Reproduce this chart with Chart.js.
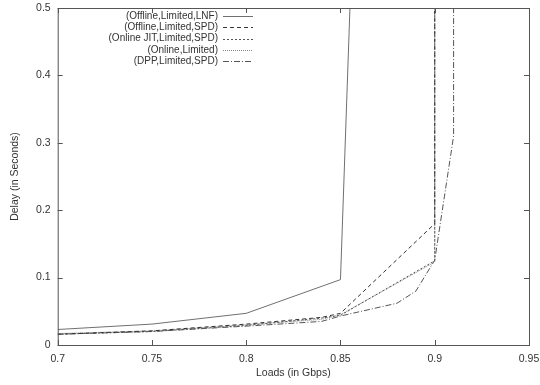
<!DOCTYPE html>
<html>
<head>
<meta charset="utf-8">
<script src="https://cdn.jsdelivr.net/npm/chart.js@4"></script>
<style>
  html, body { margin: 0; padding: 0; background: #fff; }
  #wrap { width: 540px; height: 385px; position: relative; }
</style>
</head>
<body>
<div id="wrap"><canvas id="delayChart" width="540" height="385"></canvas></div>
<script>
// values (load in Gbps, delay in seconds)
const lnfLoads = [0.7, 0.75, 0.8, 0.85, 0.86];
const lnfDelay = [0.023, 0.031, 0.047, 0.097, 0.9];

const offSpdLoads = [0.7, 0.75, 0.8, 0.84, 0.85, 0.9, 0.9];
const offSpdDelay = [0.016, 0.021, 0.031, 0.041, 0.047, 0.18, 1.0];

const jitLoads = [0.7, 0.75, 0.8, 0.84, 0.85, 0.9, 0.9];
const jitDelay = [0.016, 0.020, 0.029, 0.040, 0.044, 0.125, 1.0];

const onlineLoads = [0.7, 0.75, 0.8, 0.84, 0.85, 0.9, 0.9];
const onlineDelay = [0.017, 0.021, 0.030, 0.038, 0.045, 0.123, 1.0];

const dppLoads = [0.7, 0.75, 0.8, 0.84, 0.85, 0.88, 0.89, 0.9, 0.91, 0.91];
const dppDelay = [0.016, 0.020, 0.028, 0.035, 0.043, 0.062, 0.080, 0.126, 0.31, 1.0];

const xTicks = [0.7, 0.75, 0.8, 0.85, 0.9, 0.95];
const yTicks = [0, 0.1, 0.2, 0.3, 0.4, 0.5];

const FONT = '"Liberation Sans", Arial, sans-serif';
const TEXT = '#333';

function points(xs, ys) {
    return xs.map((x, i) => ({ x: x, y: ys[i] }));
}

function series(label, xs, ys, color, dash) {
    return {
        label: label,
        data: points(xs, ys),
        borderColor: color,
        borderWidth: 1,
        borderDash: dash,
        pointRadius: 0,
        tension: 0,
        fill: false
    };
}

// gnuplot style frame, inward ticks and the legend in the top left
const framePlugin = {
    id: 'frame',
    afterDraw(chart) {
        const ctx = chart.ctx;
        const a = chart.chartArea;
        const xs = chart.scales.x;
        const ys = chart.scales.y;
        ctx.save();
        ctx.strokeStyle = '#555';
        ctx.lineWidth = 1;
        ctx.setLineDash([]);
        ctx.strokeRect(a.left + 0.5, a.top + 0.5, a.right - a.left, a.bottom - a.top);
        ctx.beginPath();
        xTicks.forEach(v => {
            const px = Math.round(xs.getPixelForValue(v)) + 0.5;
            ctx.moveTo(px, a.bottom); ctx.lineTo(px, a.bottom - 5);
            ctx.moveTo(px, a.top); ctx.lineTo(px, a.top + 5);
        });
        yTicks.forEach(v => {
            const py = Math.round(ys.getPixelForValue(v)) + 0.5;
            ctx.moveTo(a.left, py); ctx.lineTo(a.left + 5, py);
            ctx.moveTo(a.right, py); ctx.lineTo(a.right - 5, py);
        });
        ctx.stroke();

        // legend
        ctx.font = '10px ' + FONT;
        ctx.textAlign = 'right';
        ctx.textBaseline = 'middle';
        chart.data.datasets.forEach((ds, i) => {
            const y = 16 + i * 11.3;
            ctx.fillStyle = TEXT;
            ctx.fillText(ds.label, 218, y);
            ctx.strokeStyle = ds.borderColor;
            ctx.setLineDash(ds.borderDash || []);
            ctx.beginPath();
            ctx.moveTo(223, Math.round(y) + 0.5);
            ctx.lineTo(253, Math.round(y) + 0.5);
            ctx.stroke();
        });
        ctx.restore();
    }
};

const ctx = document.getElementById('delayChart').getContext('2d');
const delayChart = new Chart(ctx, {
    type: 'line',
    data: {
        datasets: [
            series('(Offline,Limited,LNF)', lnfLoads, lnfDelay, '#707070', []),
            series('(Offline,Limited,SPD)', offSpdLoads, offSpdDelay, '#333', [4, 3]),
            series('(Online JIT,Limited,SPD)', jitLoads, jitDelay, '#555', [2, 2]),
            series('(Online,Limited)', onlineLoads, onlineDelay, '#888', [1, 1]),
            series('(DPP,Limited,SPD)', dppLoads, dppDelay, '#555', [6, 2, 1, 2])
        ]
    },
    options: {
        responsive: false,
        animation: false,
        layout: { padding: { top: 8, right: 11, left: 0, bottom: 0 } },
        plugins: {
            legend: { display: false },
            tooltip: { enabled: false }
        },
        scales: {
            x: {
                type: 'linear',
                min: 0.7,
                max: 0.95,
                afterBuildTicks: scale => { scale.ticks = xTicks.map(v => ({ value: v })); },
                afterFit: scale => {
                    scale.height = 40;
                    scale.paddingLeft = 0;
                    scale.paddingRight = 0;
                },
                grid: { display: false, drawTicks: false },
                border: { display: false },
                ticks: {
                    padding: 8,
                    color: TEXT,
                    font: { family: FONT, size: 10.5 },
                    callback: v => String(Number(v.toFixed(2)))
                },
                title: {
                    display: true,
                    text: 'Loads (in Gbps)',
                    color: TEXT,
                    font: { family: FONT, size: 10.5 },
                    padding: { top: 6, bottom: 6 }
                }
            },
            y: {
                type: 'linear',
                min: 0,
                max: 0.5,
                afterBuildTicks: scale => { scale.ticks = yTicks.map(v => ({ value: v })); },
                afterFit: scale => {
                    scale.width = 57.7;
                    scale.paddingTop = 0;
                    scale.paddingBottom = 0;
                },
                grid: { display: false, drawTicks: false },
                border: { display: false },
                ticks: {
                    padding: 7,
                    color: TEXT,
                    font: { family: FONT, size: 10.5 },
                    callback: v => String(Number(v.toFixed(1)))
                },
                title: {
                    display: true,
                    text: 'Delay (in Seconds)',
                    color: TEXT,
                    font: { family: FONT, size: 10.5 },
                    padding: { top: 9, bottom: 9 }
                }
            }
        }
    },
    plugins: [framePlugin]
});
</script>
</body>
</html>
